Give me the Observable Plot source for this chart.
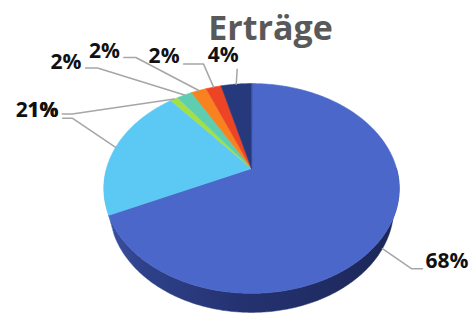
<!DOCTYPE html>
<html><head><meta charset="utf-8">
<script src="https://cdn.jsdelivr.net/npm/d3@7"></script>
<script src="https://cdn.jsdelivr.net/npm/@observablehq/plot@0.6"></script>
<style>body{margin:0;background:#fff}</style>
</head><body><div id="chart"></div>
<script>
// ---- data ----
const title = "Erträge";
const categories = ["Posten 1", "Posten 2", "Posten 3", "Posten 4", "Posten 5", "Posten 6", "Posten 7"];
const values = [68, 21, 1, 2, 2, 2, 4];
const colors = ["#4B67C9", "#5BC9F3", "#A3E048", "#5ECDB0", "#F7821F", "#EE4426", "#27397D"];

// ---- label layout (leader elbow offset in px from slice edge, horizontal tail, text nudge) ----
const labelLayout = [
  {dx: 29, dy: 20, tail: 11, tdy: -7},
  {dx: -43, dy: -29, tail: -10, tdy: -8},
  {dx: -102, dy: 15, tail: -10, tdy: -4},
  {dx: -87, dy: -27, tail: -12, tdy: -6},
  {dx: -63, dy: -33, tail: -12, tdy: -6},
  {dx: -10, dy: -23, tail: -20, tdy: -8},
  {dx: 1, dy: -15, tail: 0, tdy: -14}
];

const W = 472, Hpx = 314;
const cx0 = 251, cy0 = 168, unit = 145; // screen placement of the pie centre and radius

// perspective view of a tilted disk
const D = 3.77, sA = 0.697, cA = 0.717, depthH = 0.2;
function proj(theta, rho = 1, yh = 0) {
  const X = rho * Math.sin(theta), Z = rho * Math.cos(theta);
  const dep = D + Z * cA - yh * sA;
  return {u: X * D / dep, v: (Z * sA + yh * cA) * D / dep};
}
function arc(a, b, rho, yh) {
  const n = Math.max(2, Math.ceil(Math.abs(b - a) / 0.01));
  return d3.range(n + 1).map(i => proj(a + (b - a) * i / n, rho, yh));
}

const pie = d3.pie().sort(null).value(d => d)(values);

// top faces
const topRows = [];
pie.forEach((p, i) => {
  const pts = [proj(0, 0, 0), ...arc(p.startAngle, p.endAngle, 1, 0)];
  pts.forEach(q => topRows.push({slice: i, u: q.u, v: q.v, color: colors[i]}));
});

// side walls (front half only)
const sideRows = [];
pie.forEach((p, i) => {
  const a = Math.max(p.startAngle, Math.PI / 2), b = Math.min(p.endAngle, 3 * Math.PI / 2);
  if (b <= a) return;
  const pts = [...arc(a, b, 1, 0), ...arc(b, a, 1, -depthH)];
  pts.forEach(q => sideRows.push({slice: i, u: q.u, v: q.v}));
});

// shadow outline
const shadowRows = arc(Math.PI / 2 - 0.3, Math.PI * 1.5 + 0.3, 1.01, -depthH - 0.02).map(q => ({u: q.u, v: q.v - 0.015}));

// leader lines + labels
const lineRows = [], textRows = [];
pie.forEach((p, i) => {
  const mid = (p.startAngle + p.endAngle) / 2;
  const front = Math.cos(mid) < -0.19;
  const s = proj(mid, 1, front ? -depthH : 0);
  const L = labelLayout[i];
  const e = {u: s.u + L.dx / unit, v: s.v - L.dy / unit};
  const t = {u: e.u + L.tail / unit, v: e.v};
  [s, e, t].forEach(q => lineRows.push({slice: i, u: q.u, v: q.v}));
  const side = L.tail > 0 ? "right" : "left";
  const gap = L.tail > 0 ? 3 : (L.tail < 0 ? -4 : 1.5);
  textRows.push({u: t.u + gap / unit, v: t.v - L.tdy / unit, text: values[i] + "%", side});
});

const chart = Plot.plot({
  width: W, height: Hpx,
  margin: 0,
  x: {domain: [-cx0 / unit, (W - cx0) / unit], axis: null},
  y: {domain: [(cy0 - Hpx) / unit, cy0 / unit], axis: null},
  color: {type: "identity"},
  style: {background: "#fff"},
  marks: [
    Plot.line(shadowRows, {x: "u", y: "v", fill: "#000", fillOpacity: 0.28, curve: "linear-closed", ariaLabel: "shadow"}),
    Plot.line(sideRows.filter(d => d.slice === 0), {x: "u", y: "v", fill: "url(#sideGrad)", stroke: "url(#sideGrad)", strokeWidth: 0.5, curve: "linear-closed"}),
    Plot.line(sideRows.filter(d => d.slice !== 0), {x: "u", y: "v", z: "slice", fill: "#52BDE6", curve: "linear-closed"}),
    Plot.line(topRows, {x: "u", y: "v", z: "slice", fill: "color", stroke: "color", strokeWidth: 0.6, curve: "linear-closed"}),
    Plot.line(lineRows, {x: "u", y: "v", z: "slice", stroke: "#A6A6A6", strokeWidth: 1.5}),
    Plot.text(textRows.filter(d => d.side === "left"), {x: "u", y: "v", text: "text", textAnchor: "end", fontFamily: "Open Sans", fontWeight: "bold", fontSize: 21, fill: "#111"}),
    Plot.text(textRows.filter(d => d.side === "right"), {x: "u", y: "v", text: "text", textAnchor: "start", fontFamily: "Open Sans", fontWeight: "bold", fontSize: 21, fill: "#111"}),
    Plot.text([title], {frameAnchor: "top", lineAnchor: "top", dx: 34, dy: 15, fontFamily: "Open Sans", fontWeight: "bold", fontSize: 34, fill: "#595959"})
  ]
});

const svg = d3.select(chart);
const defs = svg.insert("defs", ":first-child");
const g = defs.append("linearGradient").attr("id", "sideGrad").attr("x1", 0).attr("x2", 1).attr("y1", 0).attr("y2", 0);
[[0, "#3B50A2"], [0.12, "#2E4189"], [0.45, "#243271"], [1, "#1C2757"]].forEach(([o, c]) =>
  g.append("stop").attr("offset", o).attr("stop-color", c));
defs.append("filter").attr("id", "blur").attr("x", "-20%").attr("y", "-20%").attr("width", "140%").attr("height", "140%")
  .append("feGaussianBlur").attr("stdDeviation", 3.5);
svg.select('g[aria-label="shadow"]').attr("filter", "url(#blur)");

document.getElementById("chart").appendChild(chart);
</script>
</body></html>
